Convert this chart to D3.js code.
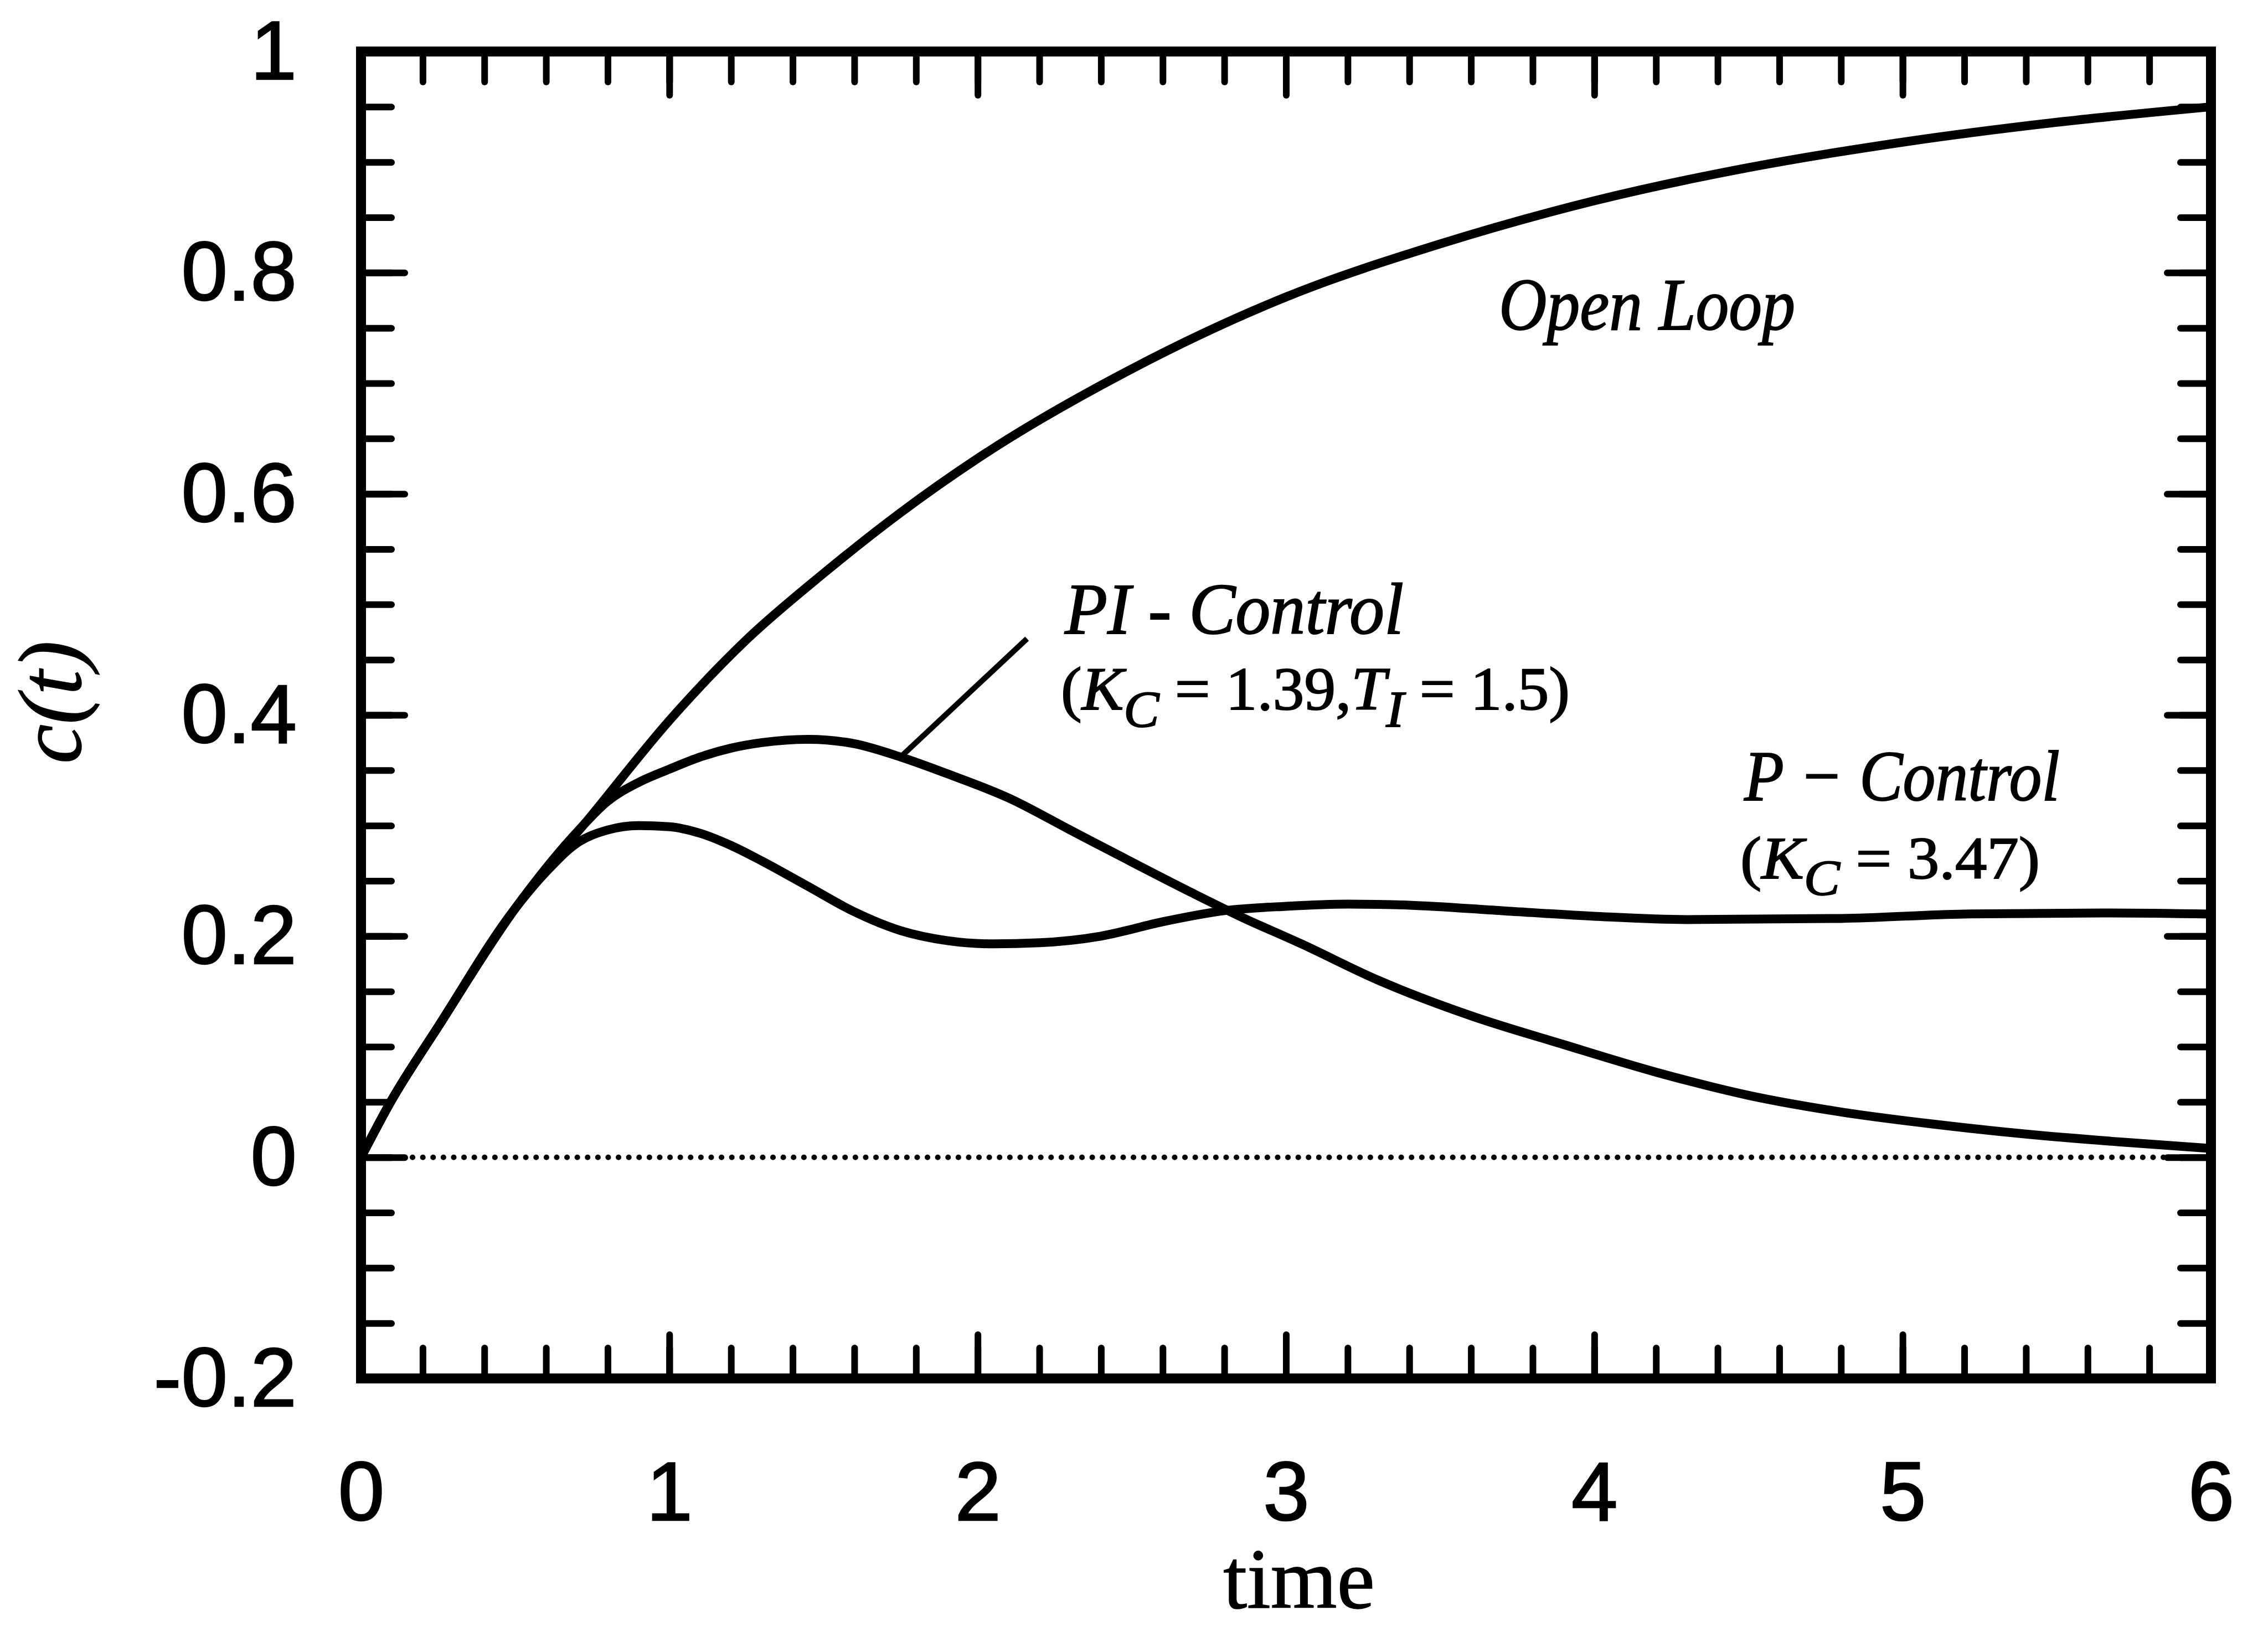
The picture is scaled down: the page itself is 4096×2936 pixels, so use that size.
<!DOCTYPE html>
<html>
<head>
<meta charset="utf-8">
<script src="https://cdn.jsdelivr.net/npm/d3@7"></script>
<style>
  body { margin: 0; background: #fff; }
  svg { display: block; }
</style>
</head>
<body>
<svg id="chart"></svg>
<script>
// values
var openT = [0, 0.1, 0.25, 0.5, 0.75, 1, 1.25, 1.5, 1.75, 2, 2.5, 3, 3.5, 4, 4.5, 5, 5.5, 6];
var openC = [0, 0.052, 0.118, 0.225, 0.31, 0.395, 0.468, 0.528, 0.583, 0.632, 0.713, 0.778, 0.826, 0.865, 0.895, 0.918, 0.936, 0.95];

var piT = [0, 0.1, 0.25, 0.5, 0.7, 0.8, 0.9, 1, 1.1, 1.2, 1.3, 1.45, 1.6, 1.75, 1.9, 2.1, 2.3, 2.5, 2.7, 2.85, 3.05, 3.3, 3.6, 3.9, 4.2, 4.5, 4.8, 5.1, 5.4, 5.7, 6];
var piC = [0, 0.052, 0.118, 0.225, 0.294, 0.322, 0.339, 0.351, 0.362, 0.37, 0.375, 0.378, 0.374, 0.362, 0.347, 0.325, 0.296, 0.267, 0.2385, 0.218, 0.193, 0.16, 0.128, 0.102, 0.077, 0.056, 0.041, 0.03, 0.021, 0.014, 0.008];

var pT = [0, 0.1, 0.25, 0.5, 0.6, 0.7, 0.8, 0.9, 1, 1.1, 1.2, 1.3, 1.45, 1.6, 1.75, 1.9, 2.05, 2.2, 2.4, 2.6, 2.8, 3, 3.2, 3.4, 3.7, 4, 4.3, 4.8, 5.2, 5.65, 6];
var pC = [0, 0.052, 0.118, 0.225, 0.258, 0.284, 0.296, 0.3, 0.299, 0.293, 0.282, 0.268, 0.245, 0.222, 0.205, 0.196, 0.193, 0.194, 0.2, 0.213, 0.223, 0.227, 0.229, 0.228, 0.223, 0.218, 0.215, 0.216, 0.22, 0.221, 0.22];

var xMajor = [0, 1, 2, 3, 4, 5, 6];
var xLabels = ["0", "1", "2", "3", "4", "5", "6"];
var yMajor = [-0.2, 0, 0.2, 0.4, 0.6, 0.8, 1];
var yLabels = ["-0.2", "0", "0.2", "0.4", "0.6", "0.8", "1"];

// PI leader line, in data units
var leaderT = [1.75, 2.16];
var leaderC = [0.362, 0.469];

var width = 4096,
    height = 2936;

var x = d3.scaleLinear().domain([0, 6]).range([652, 3993]);
var y = d3.scaleLinear().domain([-0.2, 1]).range([2489, 93]);

var xMinor = d3.range(0, 30.5).map(function(i) { return i * 0.2; });
var yMinor = d3.range(0, 24.5).map(function(i) { return -0.2 + i * 0.05; });

var svg = d3.select("#chart")
    .attr("width", width)
    .attr("height", height);

function zip(ts, cs) {
  return ts.map(function(t, i) { return [t, cs[i]]; });
}

var line = d3.line()
    .x(function(d) { return x(d[0]); })
    .y(function(d) { return y(d[1]); })
    .curve(d3.curveMonotoneX);

// zero reference (dotted)
svg.append("line")
    .attr("x1", x(0)).attr("x2", x(6))
    .attr("y1", y(0)).attr("y2", y(0))
    .attr("stroke", "#000")
    .attr("stroke-width", 10)
    .attr("stroke-linecap", "round")
    .attr("stroke-dasharray", "0.1,18.5");

[zip(openT, openC), zip(piT, piC), zip(pT, pC)].forEach(function(s) {
  svg.append("path")
      .datum(s)
      .attr("d", line)
      .attr("fill", "none")
      .attr("stroke", "#000")
      .attr("stroke-width", 16)
      .attr("stroke-linejoin", "round");
});

svg.append("line")
    .attr("x1", x(leaderT[0])).attr("y1", y(leaderC[0]))
    .attr("x2", x(leaderT[1])).attr("y2", y(leaderC[1]))
    .attr("stroke", "#000")
    .attr("stroke-width", 10);

// ticks on all four sides, pointing inward
function styleAxis(g) {
  g.select(".domain").remove();
  g.selectAll("line")
      .attr("stroke", "#000")
      .attr("stroke-width", 12)
      .attr("stroke-linecap", "round");
  g.attr("font-family", "'Liberation Sans', Arial, Helvetica, sans-serif")
      .attr("font-size", 150);
  g.selectAll("text")
      .attr("fill", "#000")
      .attr("stroke", "#000")
      .attr("stroke-width", 2.5);
}

var bottomY = y(-0.2), topY = y(1), leftX = x(0), rightX = x(6);

svg.append("g").attr("transform", "translate(0," + bottomY + ")")
    .call(d3.axisBottom(x).tickValues(xMinor).tickSize(-55).tickSizeOuter(0).tickFormat(""))
    .call(styleAxis);
svg.append("g").attr("transform", "translate(0," + bottomY + ")")
    .call(d3.axisBottom(x).tickValues(xMajor).tickSize(-79).tickSizeOuter(0)
      .tickFormat(function(d, i) { return xLabels[i]; }))
    .call(styleAxis)
    .selectAll("text").attr("y", 256).attr("dy", null);

svg.append("g").attr("transform", "translate(0," + topY + ")")
    .call(d3.axisTop(x).tickValues(xMinor).tickSize(-55).tickSizeOuter(0).tickFormat(""))
    .call(styleAxis);
svg.append("g").attr("transform", "translate(0," + topY + ")")
    .call(d3.axisTop(x).tickValues(xMajor).tickSize(-79).tickSizeOuter(0).tickFormat(""))
    .call(styleAxis);

svg.append("g").attr("transform", "translate(" + leftX + ",0)")
    .call(d3.axisLeft(y).tickValues(yMinor).tickSize(-55).tickSizeOuter(0).tickFormat(""))
    .call(styleAxis);
svg.append("g").attr("transform", "translate(" + leftX + ",0)")
    .call(d3.axisLeft(y).tickValues(yMajor).tickSize(-79).tickSizeOuter(0)
      .tickFormat(function(d, i) { return yLabels[i]; }))
    .call(styleAxis)
    .selectAll("text").attr("x", -116).attr("dy", "0.33em");

svg.append("g").attr("transform", "translate(" + rightX + ",0)")
    .call(d3.axisRight(y).tickValues(yMinor).tickSize(-55).tickSizeOuter(0).tickFormat(""))
    .call(styleAxis);
svg.append("g").attr("transform", "translate(" + rightX + ",0)")
    .call(d3.axisRight(y).tickValues(yMajor).tickSize(-79).tickSizeOuter(0).tickFormat(""))
    .call(styleAxis);

// frame
svg.append("rect")
    .attr("x", leftX).attr("y", topY)
    .attr("width", rightX - leftX)
    .attr("height", bottomY - topY)
    .attr("fill", "none")
    .attr("stroke", "#000")
    .attr("stroke-width", 18);

// axis titles
svg.append("text")
    .attr("x", 2346).attr("y", 2903)
    .attr("text-anchor", "middle")
    .attr("font-family", "'Liberation Serif', 'Times New Roman', serif")
    .attr("font-size", 154)
    .attr("stroke", "#000")
    .attr("stroke-width", 1.5)
    .text("time");

svg.append("text")
    .attr("transform", "translate(145,1268) rotate(-90)")
    .attr("text-anchor", "middle")
    .attr("font-family", "'Liberation Serif', 'Times New Roman', serif")
    .attr("font-style", "italic")
    .attr("font-size", 160)
    .attr("stroke", "#000")
    .attr("stroke-width", 1.5)
    .text("c(t)");

// curve annotations; parts: [text, italic, subscript]
function note(px, py, size, len, parts) {
  var t = svg.append("text")
      .attr("x", px).attr("y", py)
      .attr("font-family", "'Liberation Serif', 'Times New Roman', serif")
      .attr("font-size", size)
      .attr("stroke", "#000")
      .attr("stroke-width", 2)
      .attr("textLength", len)
      .attr("lengthAdjust", "spacingAndGlyphs");
  var shift = 0;
  parts.forEach(function(p) {
    var s = t.append("tspan")
        .attr("font-style", p[1] ? "italic" : "normal")
        .text(p[0]);
    var want = p[2] ? Math.round(size * 0.28) : 0;
    if (want !== shift) { s.attr("dy", want - shift); shift = want; }
    if (p[2]) s.attr("font-size", size * 0.85);
  });
}

note(2707, 595, 134, 535, [["Open Loop", true]]);
note(1923, 1144, 132, 612, [["PI - Control", true]]);
note(1916, 1281, 110, 919, [["(", false], ["K", true], ["C", true, true],
  [" = 1.39,", false], ["T", true], ["I", true, true], [" = 1.5)", false]]);
note(3150, 1445, 130, 570, [["P \u2212 Control", true]]);
note(3143, 1586, 108, 541, [["(", false], ["K", true], ["C", true, true], [" = 3.47)", false]]);
</script>
</body>
</html>
